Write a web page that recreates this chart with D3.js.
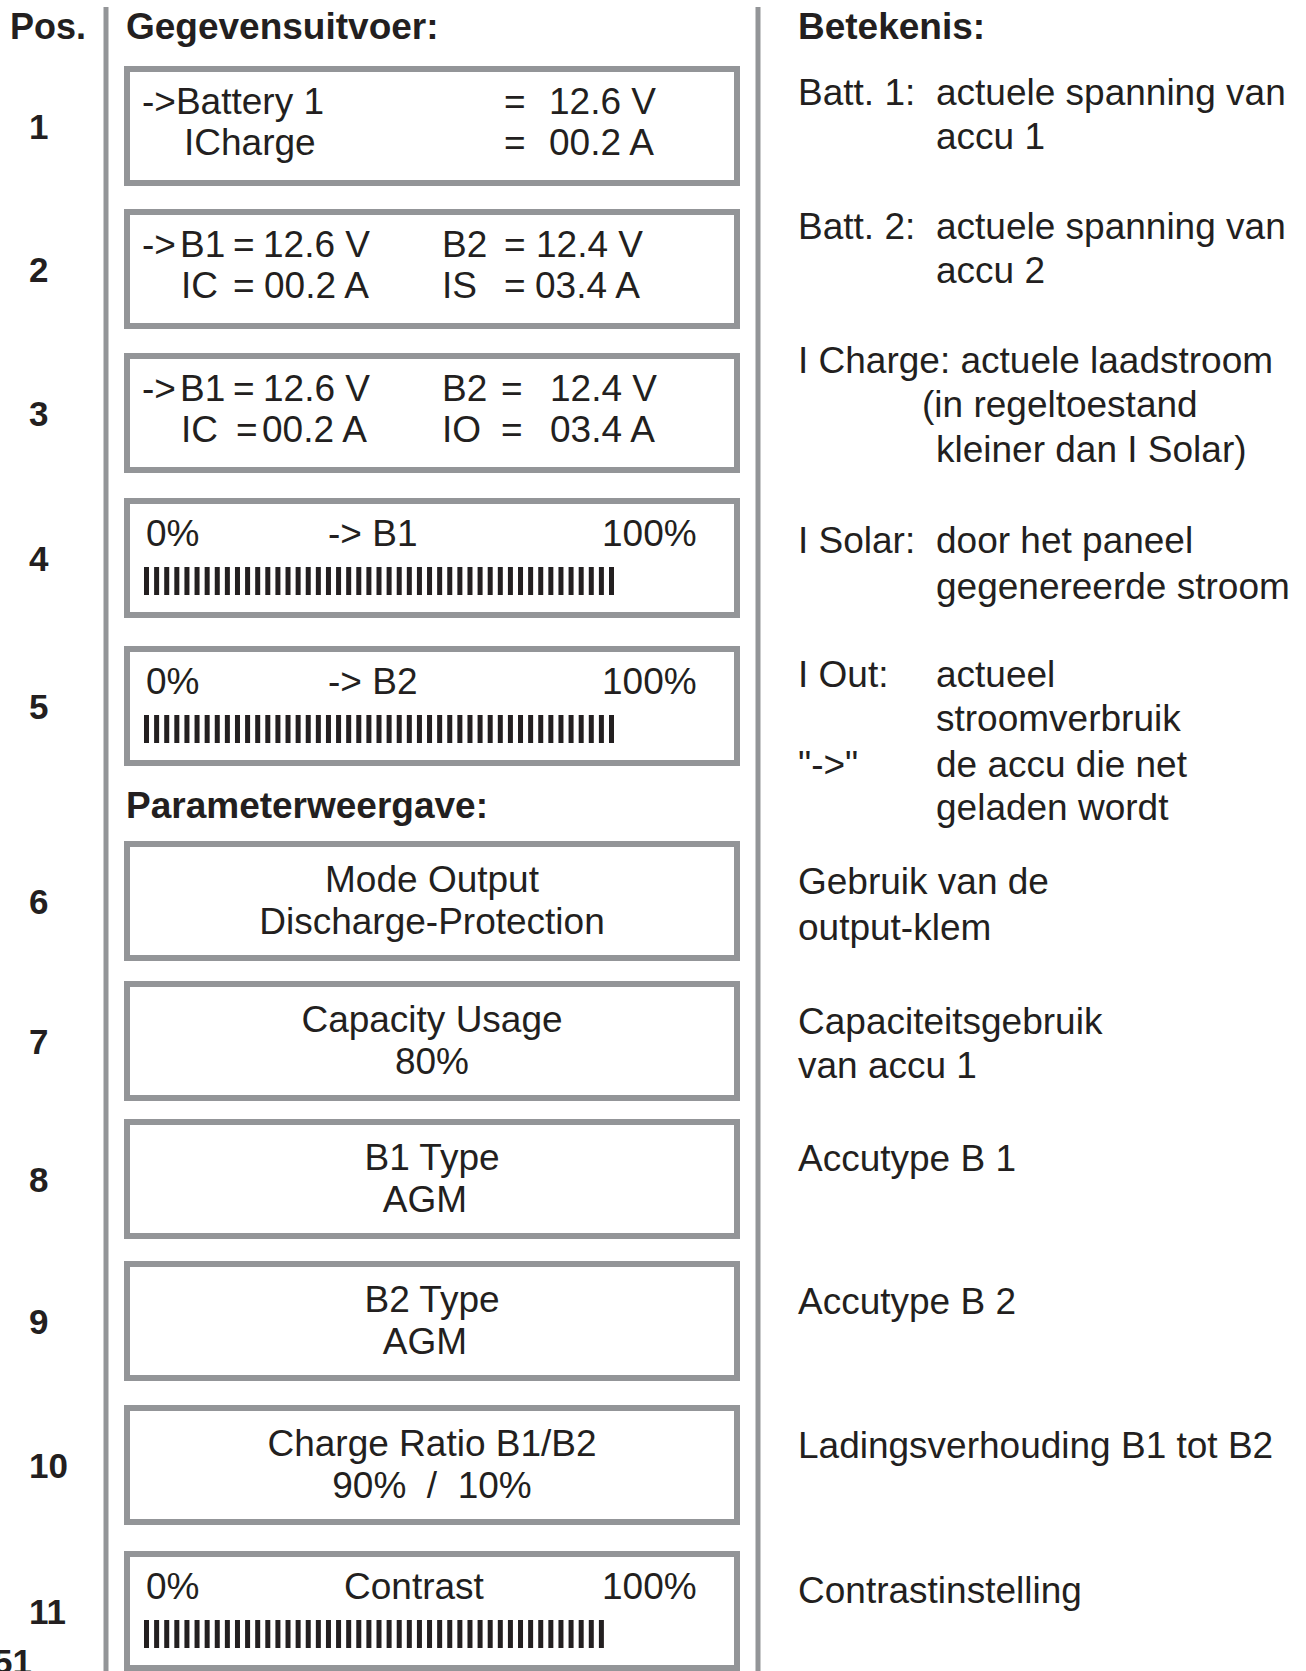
<!DOCTYPE html>
<html>
<head>
<meta charset="utf-8">
<script src="https://cdn.jsdelivr.net/npm/d3@7"></script>
<style>
	body { margin: 0; background: #fff; }
	svg { display: block; }
	text { font-family: 'Liberation Sans', Arial, Helvetica, sans-serif; fill: #231f20; }
</style>
</head>
<body>
<script>

// ---- data ----
var headers = ['Pos.', 'Gegevensuitvoer:', 'Betekenis:'];
var subHeader = 'Parameterweergave:';
var positions = ['1', '2', '3', '4', '5', '6', '7', '8', '9', '10', '11'];

var readouts = [
	[['->Battery 1', '=', '12.6 V'], ['ICharge', '=', '00.2 A']],
	[['->', 'B1', '=', '12.6 V', 'B2', '=', '12.4 V'], ['IC', '=', '00.2 A', 'IS', '=', '03.4 A']],
	[['->', 'B1', '=', '12.6 V', 'B2', '=', '12.4 V'], ['IC', '=', '00.2 A', 'IO', '=', '03.4 A']]
];

var barLabels = [
	['0%', '-> B1', '100%'],
	['0%', '-> B2', '100%'],
	['0%', 'Contrast', '100%']
];
var barSegments = [47, 47, 46];

var params = [
	['Mode Output', 'Discharge-Protection'],
	['Capacity Usage', '80%'],
	['B1 Type', 'AGM'],
	['B2 Type', 'AGM'],
	['Charge Ratio B1/B2', '90%  /  10%']
];

var meanings = [
	['Batt. 1:', 'actuele spanning van'],
	['', 'accu 1'],
	['Batt. 2:', 'actuele spanning van'],
	['', 'accu 2'],
	['I Charge: actuele laadstroom', ''],
	['', '(in regeltoestand'],
	['', 'kleiner dan I Solar)'],
	['I Solar:', 'door het paneel'],
	['', 'gegenereerde stroom'],
	['I Out:', 'actueel'],
	['', 'stroomverbruik'],
	['"->"', 'de accu die net'],
	['', 'geladen wordt'],
	['Gebruik van de', ''],
	['output-klem', ''],
	['Capaciteitsgebruik', ''],
	['van accu 1', ''],
	['Accutype B 1', ''],
	['Accutype B 2', ''],
	['Ladingsverhouding B1 tot B2', ''],
	['Contrastinstelling', '']
];

var pageNumber = '51';

// ---- layout ----
var width = 1306,
	height = 1671;

var boxLeft = 124,
	boxRight = 740,
	boxH = 120,
	border = 6;
var boxTops = [66, 209, 353, 498, 646, 841, 981, 1119, 1261, 1405, 1551];

var readoutX = [
	[[142, 504, 549], [184, 504, 549]],
	[[142, 180, 233, 263, 442, 504, 536], [181, 233, 264, 442, 504, 535]],
	[[142, 180, 233, 263, 442, 501, 550], [181, 236, 262, 442, 501, 550]]
];
var barLabelX = [[146, 328, 602], [146, 328, 602], [146, 344, 602]];
var meaningY = [105, 149, 239, 283, 373, 417, 462, 553, 599, 687, 731, 777, 820,
	894, 940, 1034, 1078, 1171, 1314, 1458, 1603];

var gray = '#939598';

var svg = d3.select('body').append('svg')
	.attr('width', width)
	.attr('height', height);

// segment scale of the level bars
var seg = d3.scaleLinear().domain([0, 46]).range([144, 609]);

// vertical rules
svg.selectAll('.rule')
	.data([106, 758])
	.enter().append('line')
		.attr('x1', function(d) { return d; })
		.attr('x2', function(d) { return d; })
		.attr('y1', 7)
		.attr('y2', height)
		.style('stroke', gray)
		.style('stroke-width', 5);

// headers
svg.selectAll('.header')
	.data(headers)
	.enter().append('text')
		.attr('x', function(d, i) { return [10, 126, 798][i]; })
		.attr('y', 39)
		.style('font-weight', 'bold')
		.style('font-size', function(d, i) { return i == 0 ? '36px' : '37px'; })
		.text(function(d) { return d; });

svg.append('text')
	.attr('x', 126)
	.attr('y', 818)
	.style('font-weight', 'bold')
	.style('font-size', '37px')
	.text(subHeader);

// position numbers
svg.selectAll('.pos')
	.data(positions)
	.enter().append('text')
		.attr('x', 29)
		.attr('y', function(d, i) { return boxTops[i] + boxH / 2 + 12.5; })
		.style('font-weight', 'bold')
		.style('font-size', '35px')
		.text(function(d) { return d; });

// page number, partly cut at the page edge
svg.append('text')
	.attr('x', -7)
	.attr('y', 1674)
	.style('font-weight', 'bold')
	.style('font-size', '35px')
	.text(pageNumber);

// display boxes
svg.selectAll('.box')
	.data(boxTops)
	.enter().append('rect')
		.attr('x', boxLeft + border / 2)
		.attr('y', function(d) { return d + border / 2; })
		.attr('width', boxRight - boxLeft - border)
		.attr('height', boxH - border)
		.style('fill', 'none')
		.style('stroke', gray)
		.style('stroke-width', border);

// readout boxes 1-3
readouts.forEach(function(rows, b) {
	rows.forEach(function(cells, r) {
		svg.selectAll(null)
			.data(cells)
			.enter().append('text')
				.attr('x', function(d, c) { return readoutX[b][r][c]; })
				.attr('y', boxTops[b] + 48 + r * 41)
				.style('font-size', '37px')
				.text(function(d) { return d; });
	});
});

// bar boxes 4, 5 and 11
var barBoxes = [3, 4, 10];
barLabels.forEach(function(labels, k) {
	var top = boxTops[barBoxes[k]];

	svg.selectAll(null)
		.data(labels)
		.enter().append('text')
			.attr('x', function(d, c) { return barLabelX[k][c]; })
			.attr('y', top + 48)
			.style('font-size', '37px')
			.text(function(d) { return d; });

	svg.selectAll(null)
		.data(d3.range(barSegments[k]))
		.enter().append('rect')
			.attr('x', function(d) { return seg(d); })
			.attr('y', top + 69)
			.attr('width', 5)
			.attr('height', 28)
			.style('fill', '#231f20');
});

// parameter boxes 6-10
params.forEach(function(lines, k) {
	var top = boxTops[5 + k];
	svg.selectAll(null)
		.data(lines)
		.enter().append('text')
			.attr('x', function(d) { return (boxLeft + boxRight) / 2 - (d == 'AGM' ? 7 : 0); })
			.attr('y', function(d, r) { return top + 51 + r * 42; })
			.attr('text-anchor', 'middle')
			.attr('xml:space', 'preserve')
			.style('white-space', 'pre')
			.style('font-size', '37px')
			.text(function(d) { return d; });
});

// meaning column
var mean = svg.selectAll('.mean')
	.data(meanings)
	.enter().append('g');

mean.append('text')
	.attr('x', 798)
	.attr('y', function(d, i) { return meaningY[i]; })
	.style('font-size', '37px')
	.text(function(d) { return d[0]; });

mean.append('text')
	.attr('x', function(d, i) { return i == 5 ? 922 : 936; })
	.attr('y', function(d, i) { return meaningY[i]; })
	.style('font-size', '37px')
	.text(function(d) { return d[1]; });

</script>
</body>
</html>
